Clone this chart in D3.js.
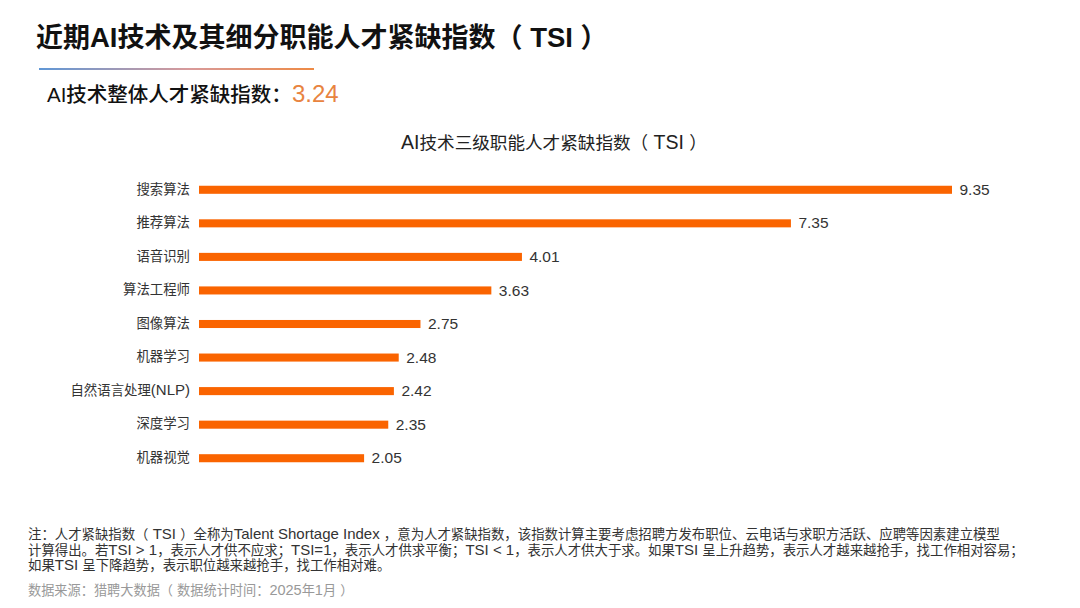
<!DOCTYPE html>
<html><head><meta charset="utf-8">
<script src="https://cdn.jsdelivr.net/npm/d3@7/dist/d3.min.js"></script>
<style>
html,body{margin:0;padding:0;background:#fff}
svg{display:block}
text{font-family:"Liberation Sans","Noto Sans CJK SC",sans-serif}
</style></head><body>
<svg id="c" width="1080" height="608"></svg>
<script>
const categories = ["搜索算法","推荐算法","语音识别","算法工程师","图像算法","机器学习","自然语言处理(NLP)","深度学习","机器视觉"];
const values = [9.35,7.35,4.01,3.63,2.75,2.48,2.42,2.35,2.05];
const mainTitle = "近期AI技术及其细分职能人才紧缺指数（ TSI ）";
const subLabel = "AI技术整体人才紧缺指数：";
const subValue = "3.24";
const chartTitle = "AI技术三级职能人才紧缺指数（ TSI ）";
const notes = [
 "注：人才紧缺指数（ TSI ）全称为Talent Shortage Index ，意为人才紧缺指数，该指数计算主要考虑招聘方发布职位、云电话与求职方活跃、应聘等因素建立模型",
 "计算得出。若TSI > 1，表示人才供不应求；TSI=1，表示人才供求平衡；TSI < 1，表示人才供大于求。如果TSI 呈上升趋势，表示人才越来越抢手，找工作相对容易；",
 "如果TSI 呈下降趋势，表示职位越来越抢手，找工作相对难。"
];
const source = "数据来源：猎聘大数据（ 数据统计时间：2025年1月 ）";

const svg = d3.select("#c");
const grad = svg.append("defs").append("linearGradient").attr("id","rule");
grad.append("stop").attr("offset","0%").attr("stop-color","#5f97d6");
grad.append("stop").attr("offset","55%").attr("stop-color","#d99a9a");
grad.append("stop").attr("offset","100%").attr("stop-color","#ee8a45");

// Latin runs are set larger than the CJK runs, as in the reference
function runs(sel, str, cjk, latin){
  sel.text(null);
  (str.match(/[\x20-\x7e]+|[^\x20-\x7e]+/g)||[]).forEach(r=>{
    sel.append("tspan").attr("font-size",/^[\x20-\x7e]/.test(r)?latin:cjk).attr("xml:space","preserve").text(r);
  });
}

runs(svg.append("text").attr("x",36).attr("y",47).attr("font-weight",700).attr("fill","#111"),mainTitle,27,27.5);
svg.append("rect").attr("x",39).attr("y",68).attr("width",275).attr("height",2).attr("fill","url(#rule)");
const sub = svg.append("text").attr("x",47).attr("y",102);
sub.append("tspan").attr("fill","#111").attr("font-weight",500).attr("font-size",20.5).text(subLabel);
sub.append("tspan").attr("fill","#e8843f").attr("font-size",24).text(subValue);
runs(svg.append("text").attr("x",401).attr("y",149).attr("fill","#222"),chartTitle,17.6,19.5);

const x = d3.scaleLinear().domain([0,9.35]).range([199,952]);
const y = d3.scaleBand().domain(categories).range([173,475]).paddingInner(0.76).paddingOuter(0.38);

const yAxis = svg.append("g").attr("transform","translate(199,0.6)").call(d3.axisLeft(y).tickSize(0).tickPadding(9));
yAxis.select(".domain").remove();
yAxis.selectAll("text").attr("fill","#333").attr("font-family",null).style("font-family",'"Liberation Sans","Noto Sans CJK SC",sans-serif')
  .each(function(d){ runs(d3.select(this),d,13.4,15); });

svg.append("g").selectAll("rect").data(values).join("rect")
  .attr("x",x(0)).attr("y",(d,i)=>y(categories[i]))
  .attr("width",d=>x(d)-x(0)).attr("height",y.bandwidth()).attr("fill","#fa6400");

svg.append("g").selectAll("text").data(values).join("text")
  .attr("x",d=>x(d)+7.5).attr("y",(d,i)=>y(categories[i])+y.bandwidth()/2-0.5).attr("dy","0.36em")
  .attr("font-size",15.5).attr("fill","#333").text(d=>d.toFixed(2));

svg.append("g").selectAll("text").data(notes).join("text")
  .attr("x",28).attr("y",(d,i)=>539+i*15.5).attr("fill","#333")
  .each(function(d){ runs(d3.select(this),d,13.4,15); });
runs(svg.append("text").attr("x",28).attr("y",595).attr("fill","#999"),source,13.2,14.5);
</script>
</body></html>
